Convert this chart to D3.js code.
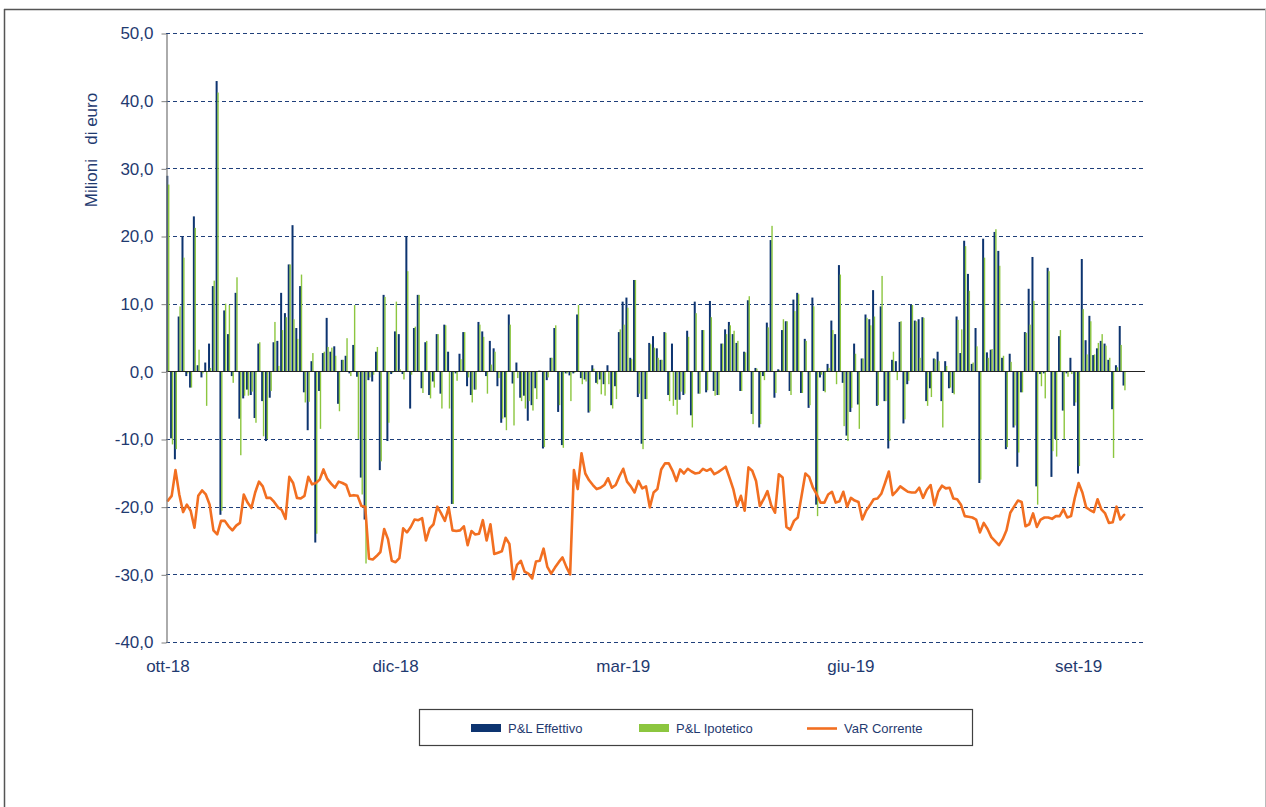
<!DOCTYPE html>
<html><head><meta charset="utf-8">
<script src="https://cdn.jsdelivr.net/npm/d3@7"></script>
<style>
body{margin:0;background:#fff}
svg{display:block}
text{font-family:"Liberation Sans",Arial,sans-serif}
</style>
</head><body>
<svg id="chart" width="1266" height="807"></svg>
<script>
// ---------- DATA ----------
const seriesNames = ["P&L Effettivo", "P&L Ipotetico", "VaR Corrente"];

const pnlEffettivo = [
 28.9,-9.9,-13.0,8.1,19.9,-0.7,-2.4,22.9,0.9,-0.9,
 1.3,4.1,12.6,42.9,-21.2,9.0,5.5,-0.7,11.6,-7.0,
 -4.0,-2.7,-3.5,-6.9,4.1,-4.4,-10.3,-3.9,4.3,4.5,
 11.6,8.6,15.8,21.6,6.4,12.6,-3.1,-8.7,1.5,-25.3,
 -2.9,2.7,7.9,2.9,3.7,-4.8,1.7,2.3,-0.3,3.9,
 -0.8,-15.7,-21.9,-1.3,-1.5,2.9,-14.6,11.3,-10.3,-0.4,
 5.9,5.5,-0.4,20.0,-5.5,6.4,11.3,-2.5,4.3,-3.5,
 -1.5,5.5,-3.3,6.9,2.9,-19.6,-0.3,2.6,5.8,-2.2,
 -3.5,-2.7,7.3,5.9,-0.7,4.5,3.4,-2.2,-7.6,-6.8,
 8.4,-1.8,1.3,-3.9,-3.6,-7.3,-5.0,-2.5,0.1,-11.4,
 -1.3,2.0,6.4,-6.0,-10.9,-0.3,-0.6,-0.3,8.4,-1.0,
 -1.2,-6.1,0.9,-1.7,-1.2,-1.9,0.9,-5.0,-2.2,5.8,
 10.3,10.9,2.0,13.5,-3.8,-10.7,-4.1,4.2,5.2,3.4,
 1.7,5.8,-3.5,4.1,-4.2,-4.2,-3.5,6.0,-6.5,10.3,
 -3.3,6.1,-3.1,10.4,-2.9,-3.5,4.1,6.2,7.3,5.5,
 4.2,-2.9,2.9,10.5,-6.3,0.5,-8.3,-0.7,7.2,19.4,
 -3.9,0.3,6.1,7.4,-2.9,10.6,11.6,-3.2,4.8,-5.4,
 10.9,-19.7,-0.9,-2.9,1.1,7.5,5.5,15.7,-1.7,-9.5,
 -6.0,4.1,-4.9,1.9,8.4,7.7,12.0,-5.1,9.6,-4.4,
 -11.4,1.7,1.5,7.3,-7.7,-1.9,9.8,7.5,7.7,8.0,
 -4.4,-2.5,1.9,2.9,-4.4,1.5,-2.5,-3.2,8.1,2.7,
 19.3,14.4,1.1,6.4,-16.5,19.6,2.8,3.2,20.6,17.8,
 2.0,-11.5,2.6,-8.3,-14.1,-3.1,5.8,12.2,16.9,-17.0,
 -0.4,-0.3,15.3,-15.6,-10.0,5.2,-5.8,-0.3,2.0,-5.1,
 -15.1,16.6,4.6,8.2,2.4,3.4,4.5,4.1,1.7,-5.6,
 0.9,6.7,-2.1
];

const pnlIpotetico = [
 27.6,-10.8,-11.5,9.6,16.8,-0.3,-2.4,21.2,3.2,-0.3,
 -5.1,0.5,13.4,41.2,-20.6,10.0,9.8,-1.7,13.9,-12.4,
 -3.6,-3.6,-3.0,-7.6,4.3,-9.6,-10.0,-2.9,7.3,0.8,
 6.1,8.0,15.8,7.7,4.8,14.3,-4.6,-4.5,2.7,-24.0,
 -8.5,2.9,3.6,3.5,2.3,-5.9,1.7,4.9,-0.7,9.8,
 -10.0,-18.2,-28.4,-0.9,-0.5,3.6,-13.3,11.0,-7.6,-0.2,
 10.3,0.3,-1.2,14.8,-0.5,6.6,11.3,-3.2,4.5,-4.0,
 -2.4,5.5,-5.5,6.8,-5.5,-19.6,-1.4,1.8,5.8,-0.9,
 -4.6,-2.7,6.9,5.1,-3.3,1.0,2.9,-1.0,-7.0,-8.7,
 6.9,-8.0,-1.0,-4.4,-5.5,-4.4,-5.8,-4.1,0.1,-11.2,
 -0.9,2.0,6.8,-5.0,-11.3,-0.3,-4.4,-0.2,9.8,-1.9,
 -1.5,-5.9,0.4,-1.9,-3.4,-3.6,-1.9,-5.5,-4.1,6.2,
 6.9,9.4,1.8,13.5,-3.3,-11.5,-4.1,4.0,3.5,2.0,
 1.7,5.7,-4.4,-5.1,-6.4,-3.0,-3.3,5.1,-8.3,8.6,
 -3.3,6.1,-2.8,8.0,-3.6,-3.5,4.1,5.5,6.8,6.0,
 4.5,-2.9,2.8,11.1,-7.8,0.4,-7.8,-1.3,6.5,21.5,
 -3.2,0.2,7.7,7.4,-3.5,8.9,11.4,-3.2,4.5,-5.0,
 9.6,-21.4,-0.5,-3.1,0.5,6.1,-1.9,14.3,-8.1,-10.3,
 -5.4,2.6,-8.5,1.9,7.9,6.8,8.1,-5.0,14.1,-4.4,
 -10.3,2.9,-1.3,7.4,-7.1,-1.4,9.8,7.4,2.0,7.9,
 -5.1,-3.8,1.8,1.5,-8.3,0.8,-2.4,-3.4,7.6,6.2,
 18.5,11.9,1.3,3.7,-16.0,16.8,2.0,3.3,21.0,15.6,
 2.3,-11.2,1.4,-8.0,-12.0,-3.1,5.7,6.9,10.4,-19.7,
 -2.2,-4.0,14.8,-11.8,-12.6,6.1,-10.0,-0.8,-0.4,-4.6,
 -14.0,9.2,2.5,7.4,2.5,4.2,5.5,3.8,2.0,-12.8,
 0.6,3.9,-2.8
];

const varCorrente = [
 -19.1,-18.4,-14.6,-18.2,-20.8,-19.7,-20.6,-23.1,-18.4,-17.6,
 -18.2,-19.7,-23.5,-24.1,-22.1,-22.1,-22.9,-23.5,-22.8,-22.4,
 -18.2,-19.4,-20.2,-17.9,-16.3,-17.0,-18.7,-18.7,-19.3,-20.1,
 -20.5,-21.8,-15.6,-16.5,-18.7,-18.8,-18.4,-15.6,-16.7,-16.5,
 -16.0,-14.5,-15.9,-16.6,-17.2,-16.3,-16.5,-16.8,-18.4,-18.3,
 -18.4,-19.9,-20.0,-27.7,-27.8,-27.3,-26.7,-23.3,-24.8,-28.0,
 -28.2,-27.6,-23.2,-23.8,-23.0,-21.9,-22.0,-21.7,-25.0,-23.2,
 -22.6,-20.0,-21.0,-22.1,-20.1,-23.5,-23.6,-23.5,-22.9,-25.7,
 -23.6,-24.1,-24.0,-22.0,-25.0,-22.6,-27.0,-26.8,-26.6,-24.6,
 -25.5,-30.7,-28.6,-28.0,-29.6,-29.9,-30.6,-28.1,-28.0,-26.2,
 -28.9,-29.9,-29.0,-28.2,-27.5,-28.9,-30.0,-14.6,-17.4,-12.1,
 -15.1,-16.1,-16.8,-17.4,-17.2,-16.8,-15.8,-17.2,-16.8,-15.5,
 -14.4,-16.3,-17.0,-17.9,-16.2,-17.3,-17.0,-20.1,-17.9,-17.4,
 -14.5,-13.6,-13.6,-14.7,-16.2,-14.5,-15.1,-14.4,-14.8,-15.1,
 -15.0,-14.4,-14.7,-14.4,-15.2,-14.9,-14.5,-14.1,-15.7,-17.4,
 -19.9,-18.4,-20.6,-14.2,-14.7,-16.2,-19.9,-18.9,-17.7,-19.8,
 -20.9,-15.2,-15.7,-23.0,-23.4,-22.1,-21.6,-18.4,-15.1,-15.6,
 -17.2,-18.2,-19.4,-19.4,-18.2,-17.8,-19.4,-19.2,-17.8,-20.0,
 -18.7,-19.1,-19.3,-21.9,-20.6,-19.8,-18.9,-18.8,-18.1,-16.5,
 -14.8,-18.3,-17.7,-17.0,-17.4,-17.8,-17.9,-17.9,-17.2,-18.7,
 -17.5,-16.8,-19.8,-17.8,-16.9,-17.3,-17.2,-18.8,-18.9,-19.7,
 -21.4,-21.5,-21.6,-21.9,-23.8,-22.4,-23.3,-24.5,-25.1,-25.7,
 -24.8,-23.5,-20.9,-20.0,-19.1,-19.3,-22.9,-22.6,-21.0,-23.0,
 -21.9,-21.6,-21.6,-21.8,-21.4,-21.4,-20.4,-21.6,-21.4,-18.7,
 -16.5,-17.9,-20.1,-20.5,-20.8,-18.9,-20.4,-21.0,-22.4,-22.3,
 -20.0,-21.9,-21.2
];

// category axis: trading days (weekdays) starting 1 Oct 2018
const firstDay = [2018, 9, 1];
const nCategories = 258;
const labelInterval = 60;
const monthNames = ["gen","feb","mar","apr","mag","giu","lug","ago","set","ott","nov","dic"];
const yTickValues = [-40,-30,-20,-10,0,10,20,30,40,50];
const yTitle = "Milioni   di euro";

const categories = [];
{
  const d = new Date(firstDay[0], firstDay[1], firstDay[2]);
  while (categories.length < nCategories) {
    const wd = d.getDay();
    if (wd !== 0 && wd !== 6) categories.push(new Date(d));
    d.setDate(d.getDate() + 1);
  }
}
const catLabel = dt => monthNames[dt.getMonth()] + "-" + String(dt.getFullYear()).slice(2);

// ---------- STYLE ----------
const NAVY = "#0D3470";
const GREEN = "#8CC63F";
const ORANGE = "#F26F21";
const TEXT = "#1F3A70";
const GRID = "#1F3F7A";

const svg = d3.select("#chart");
svg.append("rect").attr("width",1266).attr("height",807).attr("fill","#fff");

// outer frame
svg.append("line").attr("x1",4.5).attr("x2",4.5).attr("y1",9).attr("y2",807).attr("stroke","#555").attr("stroke-width",1.5);
svg.append("line").attr("x1",4).attr("x2",1266).attr("y1",9.5).attr("y2",9.5).attr("stroke","#555").attr("stroke-width",1.5);
svg.append("line").attr("x1",1265.5).attr("x2",1265.5).attr("y1",9).attr("y2",807).attr("stroke","#bbb").attr("stroke-width",1);

const plot = {left:166, right:1145, top:33, bottom:642};

const x = d3.scaleBand().domain(d3.range(nCategories)).range([plot.left, plot.right]).paddingInner(0).paddingOuter(0);
const bw = x.bandwidth();
const cx = i => x(i) + bw / 2;
const y = d3.scaleLinear().domain([-40, 50]).range([plot.bottom, plot.top]);

const itLocale = d3.formatLocale({decimal:",", thousands:".", grouping:[3], currency:["","€"], minus:"-"});
const fmt = itLocale.format(".1f");

// gridlines
svg.append("g").selectAll("line").data(yTickValues.filter(v => v !== 0)).join("line")
  .attr("x1", plot.left).attr("x2", plot.right)
  .attr("y1", v => Math.round(y(v)) + 0.5).attr("y2", v => Math.round(y(v)) + 0.5)
  .attr("stroke", GRID).attr("stroke-width", 1).attr("stroke-dasharray", "4,3");

// bars
const zero = y(0);
svg.append("g").selectAll("rect").data(pnlEffettivo).join("rect")
  .attr("x", (d,i) => cx(i) - 1.6).attr("width", 2.0)
  .attr("y", d => Math.min(y(d), zero)).attr("height", d => Math.abs(y(d) - zero))
  .attr("fill", NAVY);
svg.append("g").selectAll("rect").data(pnlIpotetico).join("rect")
  .attr("x", (d,i) => cx(i) + 0.1).attr("width", 1.4)
  .attr("y", d => Math.min(y(d), zero)).attr("height", d => Math.abs(y(d) - zero))
  .attr("fill", GREEN);

// zero line
svg.append("line").attr("x1", plot.left).attr("x2", plot.right)
  .attr("y1", Math.round(zero) + 0.5).attr("y2", Math.round(zero) + 0.5)
  .attr("stroke", "#222").attr("stroke-width", 1.2);

// VaR line
svg.append("path").datum(varCorrente)
  .attr("fill","none").attr("stroke", ORANGE).attr("stroke-width", 2.6)
  .attr("stroke-linejoin","round").attr("stroke-linecap","round")
  .attr("d", d3.line().x((d,i) => cx(i)).y(d => y(d)));

// y axis
const yAxis = svg.append("g").attr("transform", `translate(${plot.left + 0.5},0.5)`)
  .call(d3.axisLeft(y).tickValues(yTickValues).tickFormat(fmt).tickSize(5).tickSizeOuter(0).tickPadding(8));
yAxis.select(".domain").attr("stroke", "#7f7f7f").attr("stroke-width", 1.3);
yAxis.selectAll(".tick line").attr("stroke", "#7f7f7f");
yAxis.selectAll(".tick text").attr("fill", TEXT).attr("font-size", 17).attr("font-family", '"Liberation Sans", Arial, sans-serif');

// x axis
const xTickIdx = d3.range(0, pnlEffettivo.length, labelInterval);
const xAxis = svg.append("g").attr("transform", `translate(0,${plot.bottom})`)
  .call(d3.axisBottom(x).tickValues(xTickIdx).tickFormat(i => catLabel(categories[i])).tickSize(0));
xAxis.select(".domain").remove();
xAxis.selectAll(".tick text").attr("fill", TEXT).attr("font-size", 17)
  .attr("font-family", '"Liberation Sans", Arial, sans-serif').attr("y", 30).attr("dy", 0);

// y title
svg.append("text").attr("transform", "translate(97,150) rotate(-90)")
  .attr("text-anchor", "middle").attr("fill", TEXT).attr("font-size", 17)
  .style("white-space", "pre").text(yTitle);

// legend
const lg = svg.append("g");
lg.append("rect").attr("x", 419.5).attr("y", 709.5).attr("width", 553).attr("height", 36)
  .attr("fill", "#fff").attr("stroke", "#404040").attr("stroke-width", 1.2);
const legendItems = [
  {name: seriesNames[0], type: "bar", color: NAVY, x: 471},
  {name: seriesNames[1], type: "bar", color: GREEN, x: 639},
  {name: seriesNames[2], type: "line", color: ORANGE, x: 807}
];
legendItems.forEach(it => {
  if (it.type === "bar") {
    lg.append("rect").attr("x", it.x).attr("y", 724).attr("width", 30).attr("height", 8).attr("fill", it.color);
  } else {
    lg.append("line").attr("x1", it.x).attr("x2", it.x + 30).attr("y1", 728.5).attr("y2", 728.5)
      .attr("stroke", it.color).attr("stroke-width", 2.6);
  }
  lg.append("text").attr("x", it.x + 37).attr("y", 733).attr("fill", TEXT).attr("font-size", 13).text(it.name);
});
</script>
</body></html>
